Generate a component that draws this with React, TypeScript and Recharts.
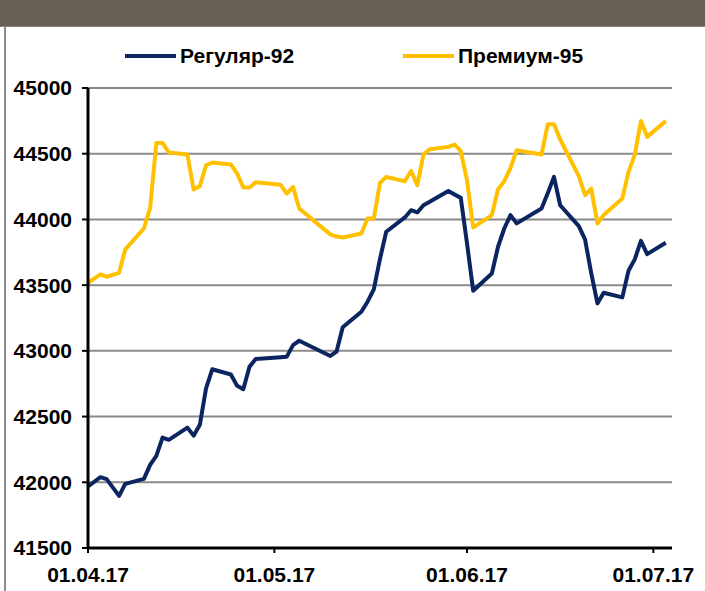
import React from 'react';
import { LineChart, Line, XAxis, YAxis, CartesianGrid } from 'recharts';

// day index: 0 = 01.04.2017
const days = [0, 2, 3, 5, 6, 9, 10, 11, 12, 13, 16, 17, 18, 19, 20, 23, 24, 25, 26, 27, 31, 32, 33, 34, 39, 40, 41, 44, 45, 46, 47, 48, 51, 52, 53, 54, 55, 58, 59, 60, 61, 62, 65, 66, 67, 68, 69, 73, 74, 75, 76, 79, 80, 81, 82, 83, 86, 87, 88, 89, 90, 93];

const regular92 = [41968, 42039, 42024, 41897, 41988, 42026, 42132, 42201, 42340, 42323, 42416, 42355, 42437, 42715, 42860, 42820, 42735, 42708, 42880, 42938, 42952, 42956, 43044, 43077, 42961, 42994, 43179, 43298, 43374, 43468, 43700, 43906, 44015, 44070, 44053, 44108, 44134, 44217, 44190, 44164, 43820, 43457, 43589, 43792, 43931, 44033, 43970, 44083, 44200, 44324, 44108, 43949, 43848, 43592, 43361, 43442, 43407, 43609, 43696, 43837, 43736, 43822];

const premium95 = [43518, 43582, 43564, 43594, 43772, 43931, 44088, 44582, 44582, 44509, 44494, 44228, 44253, 44412, 44433, 44418, 44349, 44243, 44243, 44283, 44263, 44197, 44248, 44083, 43886, 43870, 43863, 43893, 44007, 44007, 44278, 44324, 44291, 44369, 44261, 44494, 44534, 44552, 44570, 44519, 44299, 43939, 44033, 44230, 44291, 44390, 44527, 44494, 44724, 44724, 44608, 44330, 44185, 44235, 43969, 44033, 44159, 44362, 44491, 44749, 44628, 44749];

const tickDays = [0, 30, 61, 91];
const tickLabels = ['01.04.17', '01.05.17', '01.06.17', '01.07.17'];
const yTicks = [41500, 42000, 42500, 43000, 43500, 44000, 44500, 45000];

const seriesNames = ['Регуляр-92', 'Премиум-95'];
const seriesColors = ['#0B2560', '#FFC000'];

const data = days.map((d, i) => ({ day: d, r92: regular92[i], p95: premium95[i] }));

const FONT = '"Liberation Sans", Arial, sans-serif';

const legendPos = [125, 403];

export default function App() {
  return (
    <div style={{ position: 'absolute', left: 0, top: 0, width: 705, height: 591, background: '#fff', overflow: 'hidden', fontFamily: FONT }}>
      <div style={{ position: 'absolute', left: 0, top: 0, width: 705, height: 26, background: '#675E54', borderBottom: '1px solid #8a8178' }} />
      <div style={{ position: 'absolute', left: 4, top: 27, width: 2, height: 564, background: '#8c8c8c' }} />
      <div style={{ position: 'absolute', left: 0, top: 0 }}>
        <LineChart width={705} height={591} data={data} margin={{ top: 88, right: 33, bottom: 0, left: 0 }}>
          <CartesianGrid vertical={false} stroke="#8a8a8a" strokeWidth={2} />
          <XAxis
            dataKey="day"
            type="number"
            domain={[0, 94]}
            ticks={tickDays}
            tickFormatter={(v) => tickLabels[tickDays.indexOf(v)]}
            height={43}
            tickSize={5}
            tickMargin={14}
            axisLine={{ stroke: '#000', strokeWidth: 3 }}
            tickLine={{ stroke: '#000', strokeWidth: 2 }}
            tick={{ fill: '#000', fontSize: 21, fontWeight: 'bold', fontFamily: FONT }}
            interval={0}
          />
          <YAxis
            domain={[41500, 45000]}
            ticks={yTicks}
            width={88}
            tickSize={6}
            tickMargin={10}
            axisLine={{ stroke: '#000', strokeWidth: 3 }}
            tickLine={{ stroke: '#000', strokeWidth: 2 }}
            tick={{ fill: '#000', fontSize: 21, fontWeight: 'bold', fontFamily: FONT }}
            interval={0}
          />
          <Line type="linear" dataKey="r92" name={seriesNames[0]} stroke={seriesColors[0]} strokeWidth={4} dot={false} isAnimationActive={false} strokeLinejoin="round" />
          <Line type="linear" dataKey="p95" name={seriesNames[1]} stroke={seriesColors[1]} strokeWidth={4} dot={false} isAnimationActive={false} strokeLinejoin="round" />
        </LineChart>
      </div>
      {seriesNames.map((name, i) => (
        <div key={name} style={{ position: 'absolute', left: legendPos[i], top: 44, display: 'flex', alignItems: 'center', fontSize: 21, fontWeight: 'bold', color: '#000', whiteSpace: 'nowrap' }}>
          <span style={{ display: 'inline-block', width: 51, height: 4, background: seriesColors[i], marginRight: 4 }} />
          <span>{name}</span>
        </div>
      ))}
    </div>
  );
}
